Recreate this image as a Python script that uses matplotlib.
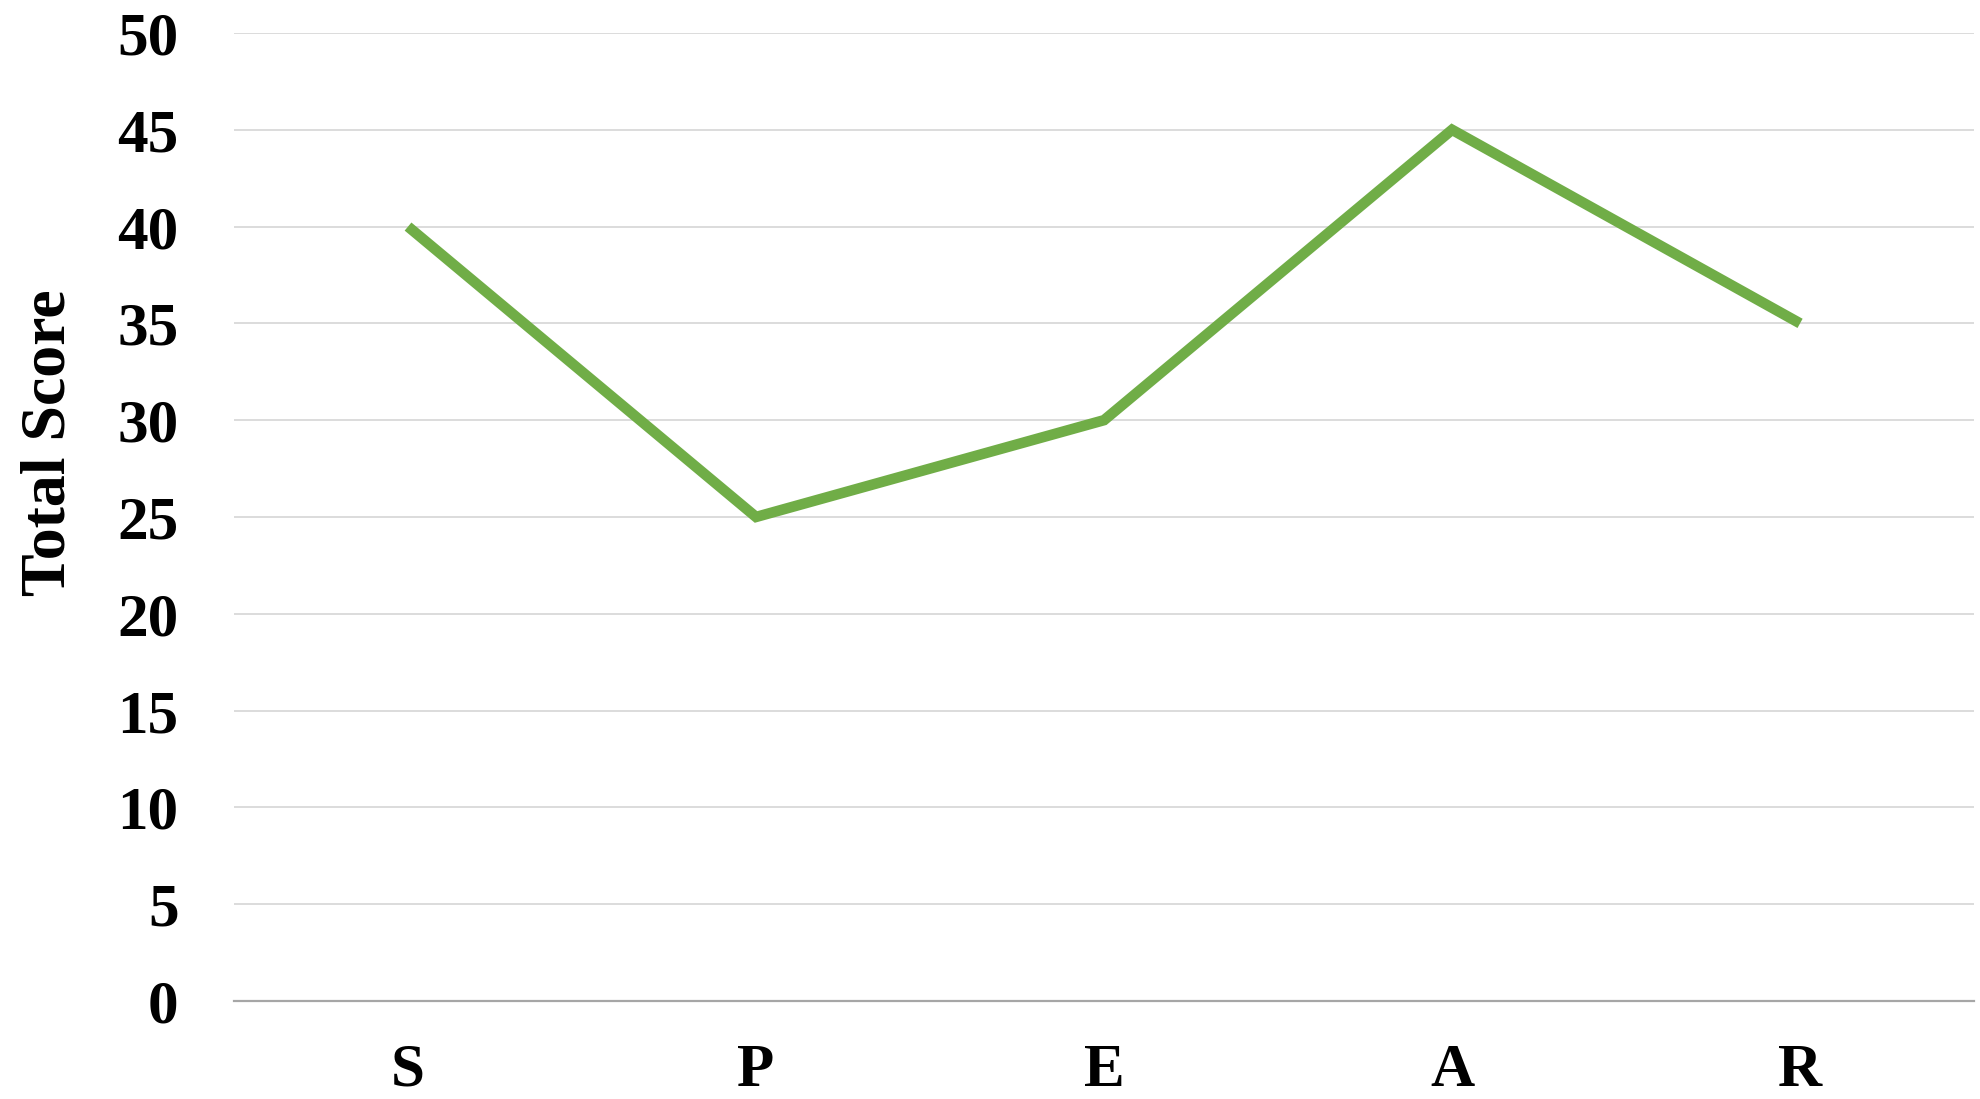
import matplotlib.pyplot as plt

categories = ['S', 'P', 'E', 'A', 'R']
scores = [40, 25, 30, 45, 35]
yticks = [0, 5, 10, 15, 20, 25, 30, 35, 40, 45, 50]

plt.rcParams['font.family'] = ['Liberation Serif', 'DejaVu Serif']
plt.rcParams['font.weight'] = 'bold'

fig = plt.figure(figsize=(19.8, 10.99), dpi=100)
ax = fig.add_axes([0.1182, 0.0892, 0.8788, 0.8808])

x = list(range(len(categories)))
ax.plot(x, scores, color='#70AD47', linewidth=7.6, solid_capstyle='butt',
        solid_joinstyle='miter', zorder=3)

ax.set_xlim(-0.5, len(categories) - 0.5)
ax.set_ylim(0, 50)
ax.set_yticks(yticks)
ax.set_xticks(x)
ax.set_xticklabels(categories)

ax.grid(axis='y', color='#D9D9D9', linewidth=1.3)
ax.set_axisbelow(True)
for side in ['top', 'right', 'left']:
    ax.spines[side].set_visible(False)
ax.spines['bottom'].set_color('#A6A6A6')
ax.spines['bottom'].set_linewidth(1.6)
ax.spines['bottom'].set_zorder(2)

ax.tick_params(axis='both', length=0, labelsize=44, labelcolor='black')
ax.tick_params(axis='y', pad=40)
ax.tick_params(axis='x', pad=30)

fig.text(50 / 1980, 1 - 443 / 1099, 'Total Score', rotation=90,
         ha='center', va='center', fontsize=46, fontweight='bold')

fig.savefig('out.png', dpi=100)
